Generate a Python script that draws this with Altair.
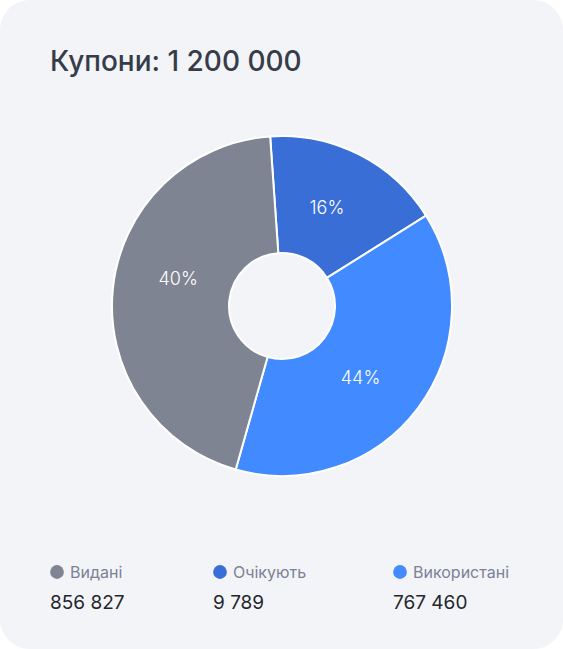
import math
import altair as alt
import pandas as pd

# ---- data ----
title_text = "Купони: 1 200 000"
categories = ["Очікують", "Використані", "Видані"]          # drawing order, clockwise from top
arc_share = [17.2, 38.3, 44.5]                                # share of the ring (as drawn)
pct_values = [16, 44, 40]                                     # printed percentages
pct_labels = ["16%", "44%", "40%"]

legend_names = ["Видані", "Очікують", "Використані"]
legend_values = [856827, 9789, 767460]

colors = {"Видані": "#7f8493", "Очікують": "#396ed7", "Використані": "#428aff"}

# ---- layout / style ----
W, H = 563, 649
CX, CY = 282, 306
START = math.radians(-4)
FONT = "Inter"
legend_x = [50, 213, 393]

pie = pd.DataFrame({
    "cat": categories,
    "share": arc_share,
    "pct": pct_values,
    "label": pct_labels,
    "idx": list(range(len(categories))),
})

leg = pd.DataFrame({
    "cat": legend_names,
    "value": [f"{v:,}".replace(",", " ") for v in legend_values],
})

color_scale = alt.Scale(domain=list(colors.keys()), range=list(colors.values()))
theta_range = alt.Scale(range=[START, START + 2 * math.pi])

arcs = alt.Chart(pie).mark_arc(
    innerRadius=53, outerRadius=170, stroke="white", strokeWidth=2
).encode(
    theta=alt.Theta("share:Q", stack=True, scale=theta_range),
    order=alt.Order("idx:Q"),
    color=alt.Color("cat:N", scale=color_scale, legend=None),
    x=alt.value(CX), y=alt.value(CY),
)

labels = alt.Chart(pie).mark_text(
    radius=107, font=FONT, fontSize=18, fontWeight=300, color="white"
).encode(
    theta=alt.Theta("pct:Q", stack=True, scale=theta_range),
    order=alt.Order("idx:Q"),
    text="label:N",
    x=alt.value(CX), y=alt.value(CY),
)

title = alt.Chart(pd.DataFrame({"t": [title_text]})).mark_text(
    font=FONT, fontSize=28, fontWeight=500, color="#363c48",
    align="left", baseline="alphabetic"
).encode(text="t:N", x=alt.value(50), y=alt.value(71))

legend_layers = []
for name, lx in zip(legend_names, legend_x):
    base = alt.Chart(leg).transform_filter(alt.datum.cat == name)
    legend_layers.append(base.mark_point(
        shape="circle", filled=True, size=190, opacity=1
    ).encode(
        x=alt.value(lx + 7), y=alt.value(572),
        color=alt.Color("cat:N", scale=color_scale, legend=None),
    ))
    legend_layers.append(base.mark_text(
        font=FONT, fontSize=16, fontWeight=400, color="#7c8195",
        align="left", baseline="alphabetic"
    ).encode(x=alt.value(lx + 20), y=alt.value(578), text="cat:N"))
    legend_layers.append(base.mark_text(
        font=FONT, fontSize=19, fontWeight=400, color="#23262c",
        align="left", baseline="alphabetic"
    ).encode(x=alt.value(lx), y=alt.value(609), text="value:N"))

chart = alt.layer(arcs, labels, title, *legend_layers).resolve_scale(
    theta="independent"
).properties(
    width=W, height=H, padding=0, autosize="none", background="white"
).configure_view(
    fill="#f3f4f8", stroke=None, cornerRadius=30
)

chart.save("out.html", embed_options={"renderer": "svg", "actions": False})
